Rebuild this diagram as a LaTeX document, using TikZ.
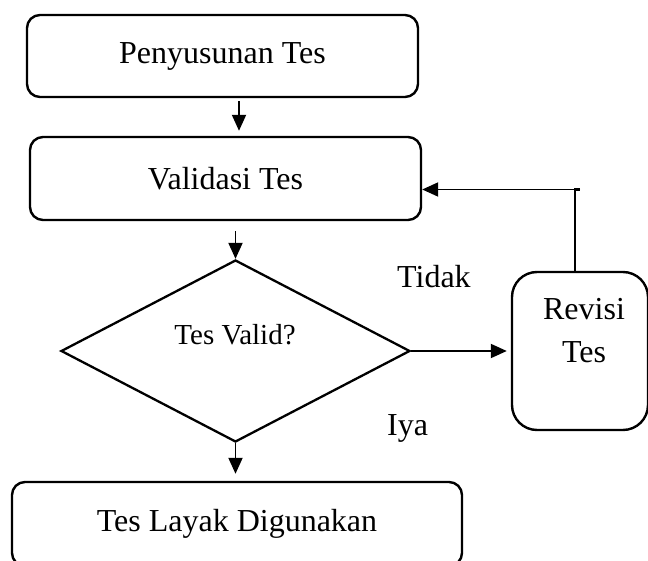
\documentclass[tikz,border=0pt]{standalone}
\usepackage{fontspec}
\setmainfont{Liberation Serif}
\usetikzlibrary{shapes.geometric,arrows.meta,calc}
\begin{document}
\begin{tikzpicture}[x=1pt,y=-1pt,
  box/.style={draw,line width=2.4pt,rounded corners=13pt,inner sep=0pt,
    font=\fontsize{32}{38}\selectfont},
  decision/.style={draw,diamond,line width=2.3pt,inner sep=0pt},
  lbl/.style={inner sep=0pt,font=\fontsize{32}{38}\selectfont},
  link/.style={line width=2.2pt},
  arr/.style={line width=1.9pt,-{Triangle[length=16pt,width=14pt]}},
]
\useasboundingbox (0,0) rectangle (648,561);

% process boxes
\node[box,minimum width=391pt,minimum height=82pt] (pen) at (222.5,56) {Penyusunan Tes};
\node[box,minimum width=391pt,minimum height=83pt] (val) at (225.5,178.5) {Validasi Tes};
\node[box,minimum width=450pt,minimum height=84pt] (use) at (237,524) {Tes Layak Digunakan};
\node[box,rounded corners=25pt,minimum width=136pt,minimum height=158pt] (rev) at (580,351) {};
\node[lbl,align=center,font=\fontsize{32}{43}\selectfont] (revtxt) at (584,331) {Revisi\\Tes};

% decision
\node[decision,minimum width=349pt,minimum height=182pt] (dia) at (235.5,351) {};
\node[lbl,font=\fontsize{29}{34}\selectfont] (diatxt) at (235,335) {Tes Valid?};

% branch labels
\node[lbl,anchor=base west] (no) at (397,288) {Tidak};
\node[lbl,anchor=base west] (yes) at (387,435) {Iya};

% flow
\draw[arr,shorten <=3pt,shorten >=5pt] ([xshift=16.5pt]pen.south) -- ([xshift=13.5pt]val.north);
\draw[arr,shorten <=10pt] (val.south -| dia.north) -- (dia.north);
\draw[arr,shorten >=4pt] (dia.east) -- (rev.west);
\draw[arr,shorten >=7pt] (dia.south) -- (use.north -| dia.south);

% feedback from revision to validation
\coordinate (turn) at (580,189.5);
\draw[link] ([xshift=-5pt]rev.north) |- (turn);
\draw[arr] (turn) -- (val.east |- turn);
\end{tikzpicture}
\end{document}
